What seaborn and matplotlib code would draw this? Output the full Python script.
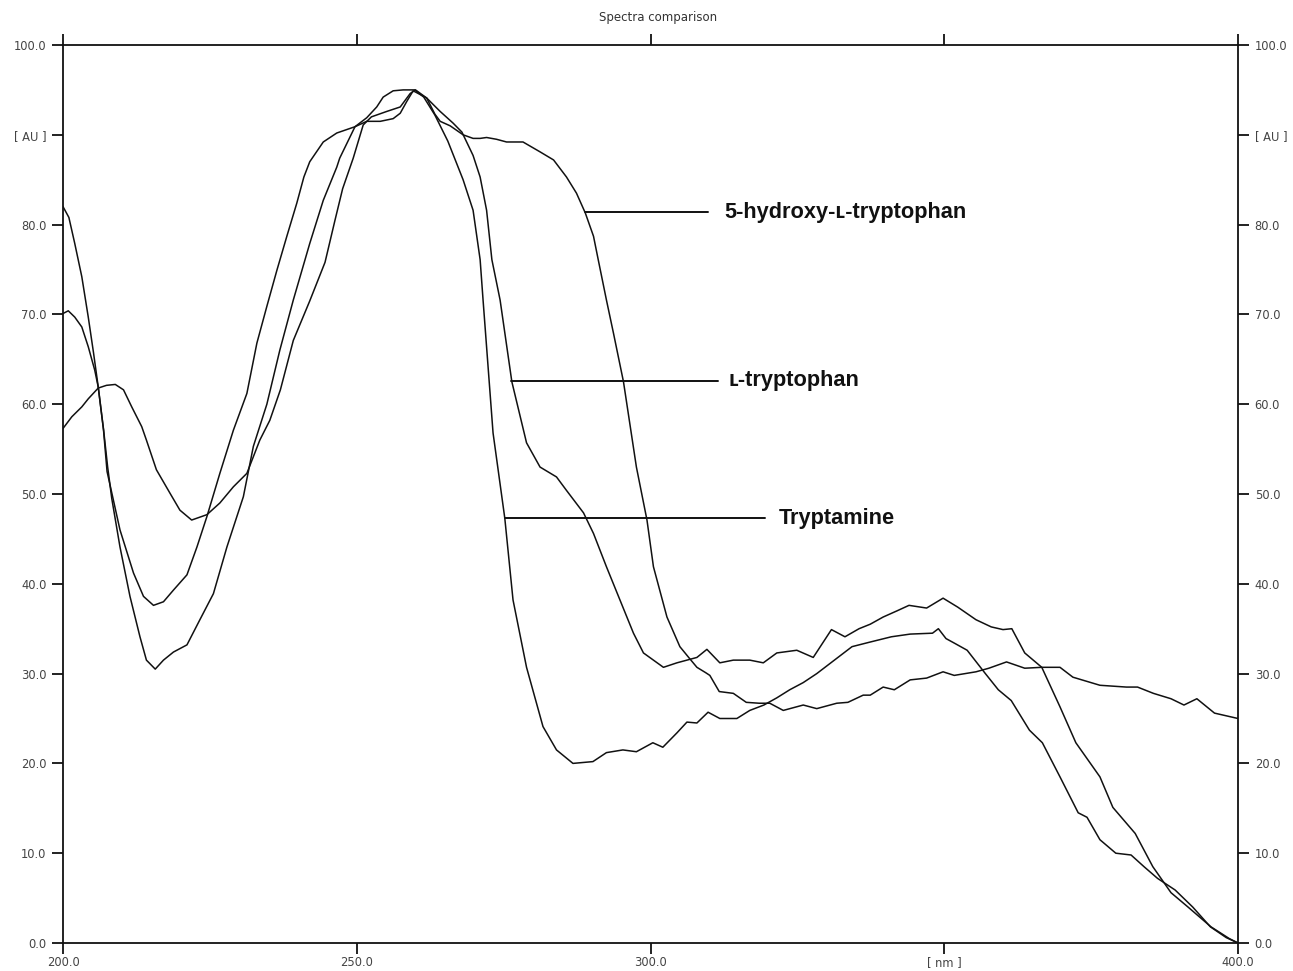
import numpy as np
import pandas as pd
import seaborn as sns
import matplotlib
matplotlib.use("Agg")
import matplotlib.pyplot as plt

# spectra (wavelength in nm, absorbance in AU)
trp_nm = [200.0, 201.0, 202.0, 203.2, 204.3, 205.2, 206.0, 206.9, 207.6, 208.3, 209.7, 211.4, 213.1, 214.2,
          215.7, 217.1, 218.8, 221.1, 223.3, 225.6, 227.9, 230.7, 232.4, 234.7, 236.9, 239.2, 242.0, 244.3,
          246.6, 247.1, 249.7, 251.7, 253.4, 254.5, 256.2, 257.9, 259.9, 261.4, 263.3, 265.5, 268.1, 269.8,
          271.0, 271.5, 273.2, 275.2, 276.6, 278.9, 281.7, 284.0, 286.8, 290.2, 292.5, 295.3, 297.6, 300.4,
          302.1, 304.5, 306.2, 307.9, 309.8, 311.8, 314.7, 316.9, 319.3, 321.5, 323.7, 326.0, 328.3, 331.3,
          334.3, 337.3, 341.0, 344.2, 348.0, 349.0, 350.3, 351.7, 353.9, 357.0, 359.2, 361.4, 364.5, 366.7,
          369.7, 372.8, 374.3, 376.5, 379.2, 381.8, 384.0, 386.3, 389.3, 392.3, 395.3, 398.0, 400.0]
trp_au = [82.0, 80.8, 77.9, 74.2, 69.7, 65.7, 61.9, 57.2, 53.0, 49.5, 44.1, 38.6, 34.1, 31.5,
          30.5, 31.5, 32.4, 33.2, 36.0, 38.9, 44.1, 49.7, 55.3, 60.0, 66.0, 71.6, 77.9, 82.7,
          86.4, 87.4, 90.9, 91.9, 93.1, 94.2, 94.9, 95.0, 95.0, 94.2, 92.2, 89.3, 85.0, 81.6,
          76.1, 71.6, 56.8, 47.3, 38.2, 30.7, 24.1, 21.5, 20.0, 20.2, 21.2, 21.5, 21.3, 22.3,
          21.8, 23.4, 24.6, 24.5, 25.7, 25.0, 25.0, 25.9, 26.5, 27.3, 28.2, 29.0, 30.0, 31.5,
          33.0, 33.5, 34.1, 34.4, 34.5, 35.0, 33.9, 33.4, 32.6, 30.0, 28.2, 27.0, 23.7, 22.3,
          18.5, 14.5, 14.0, 11.5, 10.0, 9.8, 8.5, 7.2, 5.9, 4.0, 1.8, 0.6, 0.0]

ltrp_nm = [200.0, 200.9, 202.0, 203.2, 204.3, 205.4, 206.0, 206.9, 207.5, 209.7, 212.0, 213.7, 215.4, 217.1,
           218.8, 221.1, 222.8, 224.5, 226.7, 229.0, 231.3, 233.0, 234.7, 236.4, 238.1, 239.8, 241.0, 242.0,
           244.3, 246.6, 249.7, 251.7, 254.0, 256.2, 257.4, 258.5, 259.6, 261.9, 264.2, 266.4, 267.9, 269.8,
           271.0, 272.1, 273.0, 274.4, 276.4, 278.9, 281.2, 284.0, 285.7, 288.6, 290.3, 292.5, 294.8, 297.1,
           298.8, 302.2, 304.5, 307.9, 309.6, 311.8, 314.1, 316.9, 319.2, 321.5, 324.9, 327.7, 330.8, 333.1,
           335.5, 337.4, 339.6, 342.0, 344.0, 347.0, 349.8, 352.3, 355.4, 358.0, 360.0, 361.5, 363.7, 366.6,
           369.7, 372.4, 376.5, 378.7, 382.5, 385.5, 388.6, 391.5, 395.4, 398.5, 400.0]
ltrp_au = [70.1, 70.4, 69.7, 68.6, 66.4, 63.8, 61.9, 57.1, 52.5, 46.0, 41.2, 38.6, 37.6, 38.0,
           39.3, 41.0, 44.1, 47.5, 52.3, 57.1, 61.2, 66.8, 70.9, 74.9, 78.7, 82.4, 85.3, 87.0,
           89.2, 90.2, 90.9, 91.5, 91.5, 91.8, 92.4, 93.7, 94.9, 94.1, 92.6, 91.3, 90.3, 87.7,
           85.3, 81.6, 76.1, 71.6, 62.5, 55.7, 53.0, 51.9, 50.4, 47.9, 45.6, 41.9, 38.2, 34.5,
           32.3, 30.7, 31.2, 31.8, 32.7, 31.2, 31.5, 31.5, 31.2, 32.3, 32.6, 31.8, 34.9, 34.1,
           35.0, 35.5, 36.3, 37.0, 37.6, 37.3, 38.4, 37.4, 36.0, 35.2, 34.9, 35.0, 32.3, 30.7,
           26.3, 22.3, 18.5, 15.1, 12.2, 8.5, 5.6, 4.0, 1.8, 0.5, 0.0]

htp_nm = [200.0, 201.5, 203.2, 204.3, 206.0, 207.4, 208.9, 210.3, 211.7, 213.4, 214.2, 215.9, 218.2, 219.9,
          221.9, 224.5, 226.7, 229.0, 231.3, 233.5, 235.2, 237.0, 239.2, 242.0, 244.6, 246.3, 247.6, 249.4,
          251.1, 252.5, 255.1, 257.4, 259.1, 260.0, 261.9, 263.3, 264.2, 265.9, 268.1, 269.8, 271.0, 272.1,
          273.8, 275.5, 278.3, 281.2, 283.5, 285.7, 287.4, 288.9, 290.3, 291.1, 292.5, 293.7, 295.4, 297.6,
          299.4, 300.5, 302.8, 305.0, 306.5, 307.9, 309.4, 310.1, 311.7, 314.1, 316.3, 318.5, 320.3, 322.6,
          326.0, 328.3, 331.7, 333.6, 336.2, 337.4, 339.6, 341.5, 344.2, 347.0, 349.8, 351.7, 355.4, 357.6,
          360.6, 363.7, 366.6, 369.7, 371.9, 376.5, 381.0, 382.9, 385.6, 388.6, 390.8, 393.0, 396.0, 398.0,
          400.0]
htp_au = [57.3, 58.6, 59.7, 60.6, 61.8, 62.1, 62.2, 61.6, 59.7, 57.5, 56.0, 52.7, 50.1, 48.2,
          47.1, 47.7, 49.0, 50.8, 52.3, 56.0, 58.2, 61.6, 67.1, 71.5, 75.8, 80.5, 84.0, 87.4,
          91.1, 92.0, 92.6, 93.1, 94.6, 95.0, 94.1, 92.3, 91.5, 91.0, 90.0, 89.6, 89.6, 89.7,
          89.5, 89.2, 89.2, 88.1, 87.2, 85.3, 83.5, 81.3, 78.7, 76.1, 71.6, 67.9, 62.5, 53.0,
          47.1, 41.9, 36.3, 33.0, 31.8, 30.7, 30.1, 29.8, 28.0, 27.8, 26.8, 26.7, 26.7, 25.9,
          26.5, 26.1, 26.7, 26.8, 27.6, 27.6, 28.5, 28.2, 29.3, 29.5, 30.2, 29.8, 30.2, 30.6,
          31.3, 30.6, 30.7, 30.7, 29.6, 28.7, 28.5, 28.5, 27.8, 27.2, 26.5, 27.2, 25.6, 25.3,
          25.0]

names = ["Tryptamine", "L-tryptophan", "5-hydroxy-L-tryptophan"]

x_ticks = [200, 250, 300, 350, 400]
x_labels = ["200.0", "250.0", "300.0", "[ nm ]", "400.0"]
y_ticks = [0, 10, 20, 30, 40, 50, 60, 70, 80, 90, 100]
y_labels = ["0.0", "10.0", "20.0", "30.0", "40.0", "50.0", "60.0", "70.0", "80.0", "[ AU ]", "100.0"]

df = pd.concat([
    pd.DataFrame({"nm": trp_nm, "au": trp_au, "compound": names[0]}),
    pd.DataFrame({"nm": ltrp_nm, "au": ltrp_au, "compound": names[1]}),
    pd.DataFrame({"nm": htp_nm, "au": htp_au, "compound": names[2]}),
])

sns.set_theme(style="ticks")
plt.rcParams["font.family"] = ["DejaVu Sans"]

fig = plt.figure(figsize=(12.93, 9.71), dpi=100)
ax = fig.add_axes([63 / 1293, 28 / 971, 1175 / 1293, 898 / 971])

sns.lineplot(data=df, x="nm", y="au", hue="compound", units="compound", estimator=None,
             palette=["#111111"] * 3, linewidth=1.1, legend=False, ax=ax)

ax.set_xlim(200, 400)
ax.set_ylim(0, 100)
ax.set_xticks(x_ticks)
ax.set_xticklabels(x_labels)
ax.set_yticks(y_ticks)
ax.set_yticklabels(y_labels)
ax.set_xlabel("")
ax.set_ylabel("")
ax.tick_params(direction="out", length=8, width=1.3, colors="#111111", labelcolor="#444444",
               labelsize=8.3, top=True, right=True, labelright=True, labeltop=False, pad=4)
ax.tick_params(axis="x", pad=1.5)
for sp in ax.spines.values():
    sp.set_visible(True)
    sp.set_linewidth(1.3)
    sp.set_color("#111111")

# labels with leader lines
lab_font = ["Liberation Sans", "DejaVu Sans"]
leaders = [
    (288.9, 309.8, 81.4, 312.6, "5-hydroxy-\u029f-tryptophan"),
    (276.3, 311.5, 62.6, 313.2, "\u029f-tryptophan"),
    (275.2, 319.5, 47.3, 321.9, "Tryptamine"),
]
for x0, x1, yv, xt, txt in leaders:
    ax.plot([x0, x1], [yv, yv], color="#111111", lw=1.4)
    ax.text(xt, yv, txt, va="center", ha="left", fontsize=15.7, fontweight="bold", family=lab_font,
            color="#111111")

fig.text(658 / 1293, 1 - 18 / 971, "Spectra comparison", ha="center", va="center", fontsize=8.5,
         color="#333333")

fig.savefig("out.png", dpi=100)
